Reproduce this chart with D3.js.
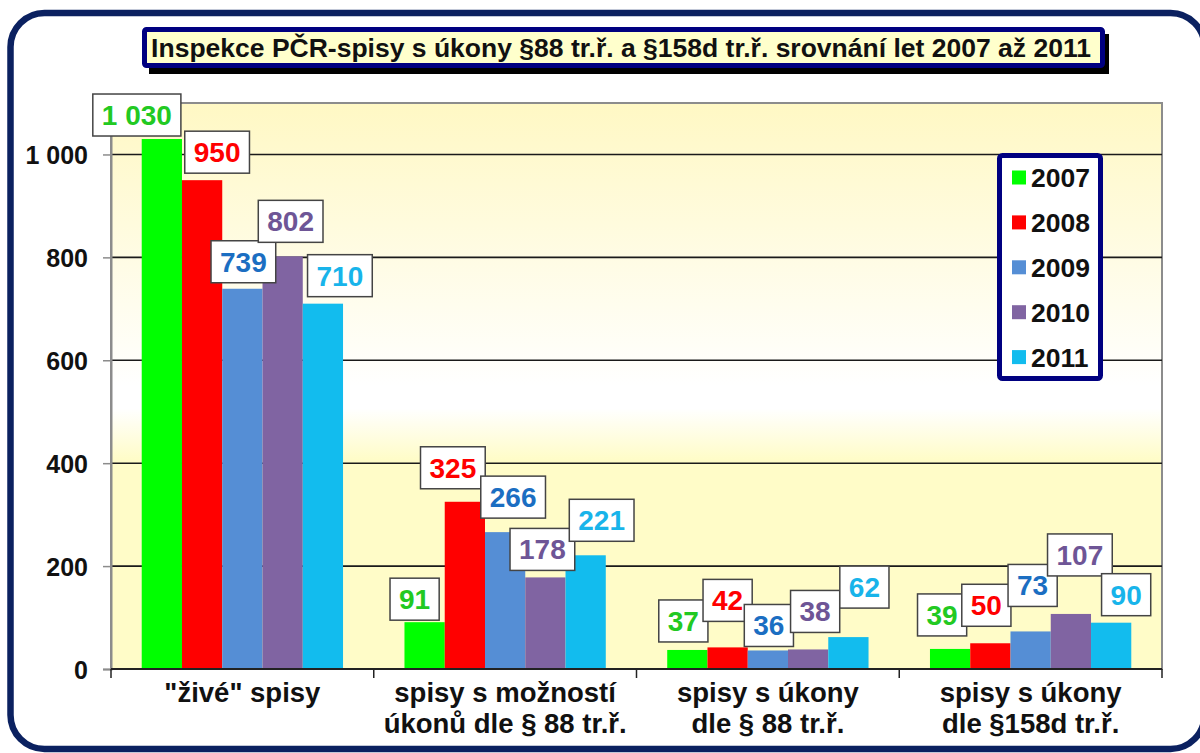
<!DOCTYPE html>
<html>
<head>
<meta charset="utf-8">
<title>Inspekce PČR</title>
<script src="https://cdn.jsdelivr.net/npm/d3@7"></script>
<style>
  body { margin: 0; background: #fff; }
  svg { display: block; font-family: Arial, "Liberation Sans", sans-serif; font-weight: bold; }
</style>
</head>
<body>
<div id="chart"></div>
<script>

// ---- data ----
var categories = [
  ['"živé" spisy'],
  ['spisy s možností', 'úkonů dle § 88 tr.ř.'],
  ['spisy s úkony', 'dle § 88 tr.ř.'],
  ['spisy s úkony', 'dle §158d tr.ř.']
];
var years = ['2007', '2008', '2009', '2010', '2011'];
var values2007 = [1030, 91, 37, 39];
var values2008 = [950, 325, 42, 50];
var values2009 = [739, 266, 36, 73];
var values2010 = [802, 178, 38, 107];
var values2011 = [710, 221, 62, 90];
var yTicks = [0, 200, 400, 600, 800, 1000];
var title = 'Inspekce PČR-spisy s úkony §88 tr.ř. a §158d tr.ř. srovnání let 2007 až 2011';

// ---- look ----
var barColors   = ['#00ff00', '#ff0000', '#558ed5', '#8064a2', '#12bcee'];
var labelColors = ['#22c922', '#ff0000', '#1b6ec2', '#6e5596', '#18b4ea'];
// the labels were dragged around by hand in the original, so each one gets a nudge (px)
var labelNudge = [
  [[-25, -3], [-10, -2], [-4, -8], [-8, -13]],
  [[15, -7], [-12, -13], [0, -26], [-4, -17]],
  [[1, -6], [8, -14], [1, -4], [2, -25]],
  [[8, -14], [-3, -7], [7, -17], [9, -38]],
  [[17, -7], [16, -14], [16, -29], [15, -7]]
];

var allValues = [values2007, values2008, values2009, values2010, values2011];
var series = years.map(function(y, i){
  return { year: y, values: allValues[i], color: barColors[i], labelColor: labelColors[i], nudge: labelNudge[i] };
});

var W = 1200, H = 753;
var plot = { left: 111, right: 1162, top: 103, bottom: 669 };

var fmt = d3.formatLocale({ decimal: ',', thousands: ' ', grouping: [3], currency: ['', ' Kč'] }).format(',d');

var svg = d3.select('#chart').append('svg')
  .attr('width', W).attr('height', H);

var defs = svg.append('defs');
var grad = defs.append('linearGradient')
  .attr('id', 'plotBg').attr('x1', 0).attr('y1', 0).attr('x2', 0).attr('y2', 1);
[[0, '#fff8c4'], [0.5, '#ffffff'], [0.54, '#ffffff'], [0.63, '#fffcc8'], [1, '#fffcc8']].forEach(function(s){
  grad.append('stop').attr('offset', s[0]).attr('stop-color', s[1]);
});

// outer rounded frame (runs off the right edge a little, like the screenshot)
svg.append('rect')
  .attr('x', 10.5).attr('y', 13).attr('width', 1194).attr('height', 736)
  .attr('rx', 34).attr('ry', 34)
  .attr('fill', '#fff').attr('stroke', '#0b2160').attr('stroke-width', 6.5);

// title box with shadow
svg.append('rect')
  .attr('x', 149).attr('y', 34).attr('width', 960).attr('height', 40)
  .attr('fill', '#000');
svg.append('rect')
  .attr('x', 144.5).attr('y', 29.5).attr('width', 958).attr('height', 36)
  .attr('rx', 2)
  .attr('fill', '#ffffcc').attr('stroke', '#000080').attr('stroke-width', 5);
svg.append('text')
  .attr('x', 621).attr('y', 57)
  .attr('text-anchor', 'middle')
  .attr('font-size', 26.5)
  .attr('fill', '#111')
  .text(title);

// scales
var x0 = d3.scaleBand().domain(d3.range(categories.length)).range([plot.left, plot.right]);
var x1 = d3.scaleBand().domain(years).range([0, x0.bandwidth()]).paddingInner(0).paddingOuter(0.763);
var y = d3.scaleLinear().domain([0, 1100]).range([plot.bottom, plot.top]);

// plot area
svg.append('rect')
  .attr('x', plot.left).attr('y', plot.top)
  .attr('width', plot.right - plot.left).attr('height', plot.bottom - plot.top)
  .attr('fill', 'url(#plotBg)')
  .attr('stroke', '#8c8c8c').attr('stroke-width', 2);

// gridlines
svg.append('g').selectAll('line')
  .data(yTicks.filter(function(d){ return d > 0; }))
  .enter().append('line')
  .attr('x1', plot.left).attr('x2', plot.right)
  .attr('y1', function(d){ return y(d); }).attr('y2', function(d){ return y(d); })
  .attr('stroke', '#1a1a1a').attr('stroke-width', 1.6);

// bars
var groups = svg.append('g').selectAll('g')
  .data(series)
  .enter().append('g')
  .attr('fill', function(d){ return d.color; });

groups.selectAll('rect')
  .data(function(s){ return s.values.map(function(v, ci){ return { v: v, ci: ci, year: s.year }; }); })
  .enter().append('rect')
  .attr('x', function(d){ return x0(d.ci) + x1(d.year); })
  .attr('width', x1.bandwidth())
  .attr('y', function(d){ return y(d.v); })
  .attr('height', function(d){ return y(0) - y(d.v); });

// y axis
var yAxis = svg.append('g')
  .attr('transform', 'translate(' + plot.left + ',0)')
  .call(d3.axisLeft(y).tickValues(yTicks).tickSize(8).tickPadding(15).tickFormat(fmt));
yAxis.select('.domain').attr('stroke', '#8c8c8c').attr('stroke-width', 2);
yAxis.selectAll('.tick line').attr('stroke', '#8c8c8c').attr('stroke-width', 1.5);
yAxis.selectAll('.tick text')
  .attr('font-size', 25).attr('font-weight', 'bold')
  .attr('font-family', 'Arial, "Liberation Sans", sans-serif')
  .attr('fill', '#111').attr('dy', '0.36em');

// x axis line and ticks at category edges
svg.append('line')
  .attr('x1', plot.left).attr('x2', plot.right)
  .attr('y1', plot.bottom).attr('y2', plot.bottom)
  .attr('stroke', '#222').attr('stroke-width', 2);
var edges = x0.domain().map(function(d){ return x0(d); }).concat([x0.range()[1]]);
svg.append('g').selectAll('line')
  .data(edges)
  .enter().append('line')
  .attr('x1', function(d){ return d; }).attr('x2', function(d){ return d; })
  .attr('y1', plot.bottom).attr('y2', plot.bottom + 9)
  .attr('stroke', '#222').attr('stroke-width', 1.5);

// category labels
var catText = svg.append('g').selectAll('text')
  .data(categories)
  .enter().append('text')
  .attr('text-anchor', 'middle')
  .attr('font-size', 27.5)
  .attr('fill', '#111');
catText.selectAll('tspan')
  .data(function(d, i){ return d.map(function(line){ return { line: line, ci: i }; }); })
  .enter().append('tspan')
  .attr('x', function(d){ return x0(d.ci) + x0.bandwidth() / 2; })
  .attr('y', function(d, j){ return 702 + j * 31; })
  .text(function(d){ return d.line; });

// data labels
var labels = svg.append('g');
series.forEach(function(s){
  s.values.forEach(function(v, ci){
    var cx = x0(ci) + x1(s.year) + x1.bandwidth() / 2 + s.nudge[ci][0];
    var bottom = y(v) + s.nudge[ci][1];
    var g = labels.append('g');
    var box = g.append('rect');
    var t = g.append('text')
      .attr('x', cx).attr('y', bottom - 11)
      .attr('text-anchor', 'middle')
      .attr('font-size', 28)
      .attr('fill', s.labelColor)
      .text(fmt(v));
    var w = t.node().getComputedTextLength() + 18;
    box.attr('x', cx - w / 2).attr('y', bottom - 42)
      .attr('width', w).attr('height', 42)
      .attr('fill', '#fff').attr('stroke', '#444').attr('stroke-width', 1.5);
  });
});

// legend
var legend = svg.append('g');
legend.append('rect')
  .attr('x', 999.5).attr('y', 155.5).attr('width', 101).attr('height', 223)
  .attr('rx', 3)
  .attr('fill', '#fff').attr('stroke', '#000080').attr('stroke-width', 5);
var item = legend.selectAll('g.item')
  .data(series)
  .enter().append('g')
  .attr('class', 'item')
  .attr('transform', function(d, i){ return 'translate(1012,' + (177.5 + i * 44.9) + ')'; });
item.append('rect')
  .attr('x', 0).attr('y', -7).attr('width', 14).attr('height', 14)
  .attr('fill', function(d){ return d.color; });
item.append('text')
  .attr('x', 19).attr('y', 9.5)
  .attr('font-size', 26.5)
  .attr('fill', '#111')
  .text(function(d){ return d.year; });

</script>
</body>
</html>
